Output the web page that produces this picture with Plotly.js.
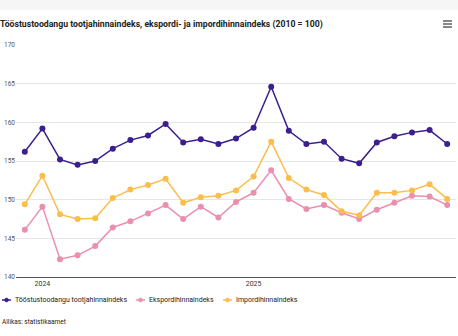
<!DOCTYPE html>
<html><head><meta charset="utf-8">
<script src="https://cdn.plot.ly/plotly-3.0.1.min.js"></script>
<style>html,body{margin:0;padding:0;background:#fff;}#chart{width:458px;height:336px;}</style>
</head><body><div id="chart"></div>
<script>
const months = ["2023-12","2024-01","2024-02","2024-03","2024-04","2024-05","2024-06","2024-07","2024-08","2024-09","2024-10","2024-11","2024-12","2025-01","2025-02","2025-03","2025-04","2025-05","2025-06","2025-07","2025-08","2025-09","2025-10","2025-11","2025-12"];
const tootja = [156.2,159.2,155.2,154.5,155.0,156.6,157.7,158.3,159.8,157.4,157.8,157.2,157.9,159.3,164.6,158.9,157.2,157.5,155.3,154.7,157.4,158.2,158.7,159.0,157.2];
const eksport = [146.1,149.1,142.3,142.8,144.0,146.4,147.2,148.2,149.3,147.5,149.1,147.7,149.7,150.9,153.8,150.1,148.8,149.3,148.3,147.5,148.7,149.6,150.5,150.4,149.3];
const import_ = [149.4,153.1,148.1,147.5,147.6,150.2,151.3,151.9,152.7,149.6,150.3,150.5,151.2,153.0,157.5,152.8,151.3,150.6,148.5,148.0,150.9,150.9,151.2,152.0,150.1];
const seriesNames = ["Tööstustoodangu tootjahinnaindeks","Ekspordihinnaindeks","Impordihinnaindeks"];
const colors = ["#3b1f8e","#ea8fb0","#fbbd4c"];
const xTickVals = ["2024-01","2025-01"];
const xTickText = ["2024","2025"];
const yTicks = [140,145,150,155,160,165,170];

const W = 458, H = 336, L = 16, R = 2, T = 45, B = 59;
const PW = W - L - R, PH = H - T - B;
const px = x => (x - L) / PW;          // page px -> paper x
const py = y => (H - B - y) / PH;      // page px -> paper y

const series = [tootja, eksport, import_];
const traces = series.map((s,i)=>({
  x: months, y: s, name: seriesNames[i], type:'scatter', mode:'lines+markers',
  line:{color:colors[i], width:1.5}, marker:{color:colors[i], size:6}, showlegend:false
}));

// custom legend (decoration)
const legendX = [2, 136, 223];
const legendY = 300;
const shapes = [
  {type:'rect', xref:'paper', yref:'paper', x0:px(0), x1:px(W), y0:py(0), y1:py(10), fillcolor:'#f6f6f6', line:{width:0}, layer:'below'}
];
[21,24,27].forEach(y=>shapes.push({type:'line', xref:'paper', yref:'paper', x0:px(443), x1:px(452), y0:py(y), y1:py(y), line:{color:'#555', width:1.4}}));
const annotations = [];
seriesNames.forEach((n,i)=>{
  const x0 = legendX[i];
  shapes.push({type:'line', xref:'paper', yref:'paper', x0:px(x0), x1:px(x0+9), y0:py(legendY), y1:py(legendY), line:{color:colors[i], width:1.5}});
  shapes.push({type:'circle', xref:'paper', yref:'paper', x0:px(x0+2.5), x1:px(x0+6.5), y0:py(legendY+2), y1:py(legendY-2), fillcolor:colors[i], line:{color:colors[i], width:0.5}});
  annotations.push({text:n, xref:'paper', yref:'paper', x:px(x0+11), y:py(legendY), xanchor:'left', yanchor:'middle', showarrow:false, font:{size:7, color:'#222'}});
});
annotations.push({text:'Allikas: statistikaamet', xref:'paper', yref:'paper', x:px(0), y:py(322),
    xanchor:'left', yanchor:'middle', showarrow:false, font:{size:6.5, color:'#222'}});

const layout = {
  width:W, height:H,
  margin:{l:L, r:R, t:T, b:B},
  paper_bgcolor:'#fff', plot_bgcolor:'#fff',
  font:{family:'Roboto, sans-serif', color:'#333'},
  title:{text:'<b>Tööstustoodangu tootjahinnaindeks, ekspordi- ja impordihinnaindeks (2010 = 100)</b>',
    x:0, xref:'container', xanchor:'left', y:1-24/H, yref:'container', yanchor:'middle',
    pad:{l:0}, font:{size:8.7, color:'#222', family:'Roboto, sans-serif'}},
  xaxis:{type:'category', range:[-0.5, months.length-0.5], tickvals:xTickVals, ticktext:xTickText,
    showgrid:false, showline:true, linecolor:'#555', linewidth:1, ticks:'', zeroline:false,
    tickfont:{size:7, color:'#333'}, fixedrange:true},
  yaxis:{range:[140,170], tickvals:yTicks, showgrid:true, gridcolor:'#e6e6e6', gridwidth:1,
    zeroline:false, showline:false, ticks:'', tickfont:{size:6.5, color:'#555'}, fixedrange:true},
  showlegend:false,
  annotations: annotations,
  shapes: shapes
};
Plotly.newPlot('chart', traces, layout, {displayModeBar:false, staticPlot:true});
</script></body></html>
